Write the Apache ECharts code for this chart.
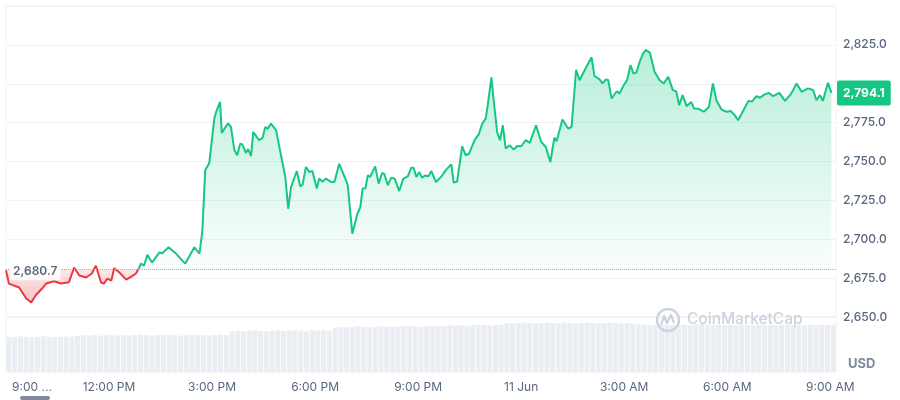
<!DOCTYPE html>
<html style="height: 100%; margin: 0;">
<head>
<meta charset="utf-8" />
<title></title>
<script src="https://cdn.jsdelivr.net/npm/echarts@6/dist/echarts.min.js" type="text/javascript" charset="utf-8"></script>
</head>
<body style="height: 100%; margin: 0; background: #ffffff;">
<div id="main" style="width: 900px; height: 400px; padding: 0px; margin: 0px;"></div>
<script type="text/javascript">
// minutes after 9:00 AM (10 Jun)
var times = [0, 5, 23, 35, 44, 52, 63, 70, 84, 96, 110, 119, 128, 140, 150, 157, 166, 171, 177, 184,
	189, 198, 210, 219, 227, 231, 236, 241, 247, 255, 268, 273, 284, 297, 313, 329, 338, 343, 348, 355,
	364, 367, 374, 377, 388, 393, 399, 404, 409, 413, 419, 423, 428, 432, 442, 448, 453, 457, 463, 472,
	477, 488, 493, 498, 508, 514, 518, 524, 530, 535, 543, 547, 553, 559, 568, 574, 582, 594, 597, 605,
	614, 619, 623, 628, 632, 636, 645, 651, 657, 661, 667, 673, 679, 687, 694, 702, 708, 712, 717, 722,
	727, 732, 738, 743, 751, 760, 769, 778, 782, 788, 797, 803, 809, 819, 826, 832, 838, 842, 848, 852,
	858, 863, 868, 873, 880, 887, 893, 900, 908, 915, 926, 935, 943, 951, 958, 962, 972, 982, 988, 996,
	1002, 1014, 1023, 1028, 1037, 1042, 1048, 1052, 1058, 1067, 1072, 1079, 1085, 1091, 1096, 1101, 1107, 1113, 1118, 1125,
	1133, 1142, 1149, 1157, 1165, 1171, 1176, 1182, 1189, 1197, 1202, 1209, 1219, 1228, 1235, 1241, 1250, 1259, 1266, 1273,
	1279, 1287, 1297, 1303, 1311, 1317, 1326, 1333, 1340, 1351, 1361, 1372, 1381, 1390, 1401, 1410, 1416, 1422, 1427, 1436,
	1442];
var prices = [2680.0, 2671.5, 2669.0, 2662.0, 2659.3, 2664.0, 2668.3, 2671.5, 2673.0, 2671.5, 2672.4, 2681.8, 2676.7, 2675.4, 2678.0, 2683.0, 2672.2, 2671.5, 2674.7, 2673.4,
	2681.4, 2678.6, 2674.0, 2676.0, 2678.0, 2680.5, 2684.4, 2683.0, 2690.0, 2685.0, 2691.5, 2691.0, 2694.8, 2690.8, 2684.3, 2694.8, 2690.8, 2705.0, 2744.3, 2748.8,
	2777.8, 2781.7, 2788.3, 2768.4, 2774.6, 2772.2, 2757.2, 2754.0, 2761.5, 2761.0, 2755.5, 2758.0, 2753.4, 2769.0, 2763.7, 2765.0, 2772.2, 2771.0, 2774.4, 2770.0,
	2760.4, 2740.0, 2719.6, 2733.6, 2743.9, 2734.0, 2735.0, 2746.5, 2743.2, 2744.0, 2732.6, 2739.0, 2737.0, 2739.0, 2736.8, 2737.0, 2748.5, 2737.9, 2734.7, 2703.6,
	2716.4, 2720.7, 2732.6, 2732.8, 2741.1, 2740.0, 2746.9, 2735.8, 2742.6, 2742.0, 2734.7, 2739.6, 2739.0, 2731.0, 2739.0, 2740.5, 2746.0, 2746.0, 2740.0, 2743.2,
	2739.5, 2741.0, 2740.5, 2743.9, 2736.8, 2740.0, 2744.8, 2748.2, 2736.5, 2737.0, 2759.8, 2754.0, 2755.0, 2764.1, 2767.5, 2774.4, 2777.6, 2787.3, 2804.1, 2789.4,
	2769.0, 2763.7, 2773.3, 2758.3, 2760.4, 2757.6, 2760.0, 2759.8, 2763.7, 2762.0, 2773.3, 2762.6, 2759.3, 2749.7, 2765.4, 2763.0, 2777.0, 2771.2, 2772.2, 2809.0,
	2802.3, 2810.9, 2817.0, 2805.0, 2802.8, 2800.2, 2802.8, 2802.5, 2790.5, 2795.2, 2793.8, 2799.0, 2802.3, 2812.0, 2806.6, 2807.0, 2814.1, 2819.5, 2821.7, 2820.0,
	2807.7, 2802.3, 2800.2, 2804.4, 2795.9, 2795.0, 2786.2, 2792.7, 2785.6, 2788.3, 2784.1, 2784.0, 2782.0, 2785.1, 2800.2, 2789.4, 2783.4, 2782.0, 2782.5, 2779.8,
	2776.5, 2782.0, 2789.0, 2788.5, 2792.0, 2791.0, 2793.3, 2794.1, 2792.0, 2794.1, 2789.0, 2793.8, 2800.2, 2794.8, 2797.0, 2796.0, 2789.4, 2792.7, 2789.0, 2800.6,
	2794.1];
// volume bars, one per 10-minute slot (relative height)
var volumes = [64, 63, 65, 64, 63, 64, 65, 64, 63, 64, 65, 64,
	66, 67, 66, 67, 66, 67, 67, 66, 67, 66, 67, 68, 67, 66, 67, 67, 68, 67, 66, 67, 68, 67, 67, 66, 67, 68, 67,
	74, 75, 74, 75, 76, 75, 74, 75, 76, 75, 75, 76, 75, 74, 76, 75, 76, 75,
	81, 82, 81, 82, 83, 82, 81, 82, 83, 82, 83, 82, 83, 84, 83, 82, 83, 84, 83,
	84, 85, 84, 85, 84, 85, 86, 85, 84, 85, 86,
	89, 88, 89, 90, 89, 88, 89, 90, 89, 88, 90, 89, 88, 89, 90, 89, 88, 89, 90, 89, 88, 89, 88, 87,
	86, 85, 86, 85, 86, 86, 85, 86, 85, 86, 87, 86, 85, 86, 85, 86, 85, 86, 86, 85, 86, 85, 86, 85, 86, 86, 85, 86, 85, 86, 85, 86, 85, 86];
var xTickLabels = ['9:00 ...', '12:00 PM', '3:00 PM', '6:00 PM', '9:00 PM', '11 Jun', '3:00 AM', '6:00 AM', '9:00 AM'];
var baseValue = 2680.7;
var lastValue = 2794.1;
var redUntil = 231; // the line turns green from this minute on

var myChart = echarts.init(document.getElementById('main'));

function fmt(v) {
	var s = v.toFixed(1).split('.');
	return s[0].replace(/\B(?=(\d{3})+(?!\d))/g, ',') + '.' + s[1];
}

var redData = [], greenData = [];
for (var i = 0; i < times.length; i++) {
	if (times[i] <= redUntil) redData.push([times[i], prices[i]]);
	if (times[i] >= redUntil) greenData.push([times[i], prices[i]]);
}
var volData = [];
for (var j = 0; j < volumes.length; j++) {
	volData.push([j * 10 + 5, volumes[j]]);
}
var redVals = redData.map(function (d) { return d[1]; });
var redMax = Math.max.apply(null, redVals.concat([baseValue]));
var redMin = Math.min.apply(null, redVals);
var redSplit = (redMax - baseValue) / (redMax - redMin);

var fontFamily = 'Inter, "Noto Sans", sans-serif';

myChart.setOption({
	animation: false,
	backgroundColor: '#ffffff',
	grid: [{
		left: 6, right: 64, top: 6, height: 311,
		show: true, borderColor: '#eff2f5', borderWidth: 1
	}, {
		left: 6, right: 64, top: 317, height: 55,
		show: true, borderColor: '#eff2f5', borderWidth: 1
	}],
	xAxis: [{
		type: 'value', gridIndex: 0, min: 0, max: 1450, interval: 180,
		axisLine: {show: false}, axisTick: {show: false}, axisLabel: {show: false},
		splitLine: {show: false}
	}, {
		type: 'value', gridIndex: 1, min: 0, max: 1450, interval: 180,
		axisLine: {show: false}, axisTick: {show: false}, splitLine: {show: false},
		axisLabel: {
			margin: 9,
			color: '#58667e',
			fontSize: 12,
			fontFamily: fontFamily,
			formatter: function (v) {
				if (v % 180 !== 0) return '';
				var k = v / 180;
				if (k === 0) return '{first|' + xTickLabels[0] + '}';
				return xTickLabels[k] || '';
			},
			rich: {
				first: {padding: [0, 0, 0, 52], color: '#58667e', fontSize: 12, fontFamily: fontFamily}
			}
		}
	}],
	yAxis: [{
		type: 'value', gridIndex: 0, position: 'right', min: 2650, max: 2850, interval: 25,
		axisLine: {show: false}, axisTick: {show: false},
		splitLine: {lineStyle: {color: '#eff2f5', width: 1}},
		axisLabel: {
			margin: 7,
			color: '#58667e',
			fontSize: 12,
			fontWeight: 500,
			fontFamily: fontFamily,
			formatter: function (v) {
				// top tick and the one under the price tag stay empty
				if (v >= 2850 || Math.abs(v - lastValue) < 10) return '';
				return fmt(v);
			}
		}
	}, {
		type: 'value', gridIndex: 1, min: 0, max: 100,
		axisLine: {show: false}, axisTick: {show: false}, axisLabel: {show: false},
		splitLine: {show: false}
	}],
	graphic: [{
		type: 'text', left: 848, top: 358, z: 10,
		style: {text: 'USD', fill: '#7f8a9c', font: 'bold 13px ' + fontFamily}
	}, {
		type: 'circle', shape: {cx: 668, cy: 320, r: 11}, z: 10,
		style: {fill: 'none', stroke: '#cdd3de', lineWidth: 2.5}
	}, {
		type: 'polyline', z: 10,
		shape: {points: [[661, 325], [664, 316], [667, 323], [671, 315], [674, 323]]},
		style: {fill: 'none', stroke: '#cdd3de', lineWidth: 2.2, lineJoin: 'round'}
	}, {
		type: 'text', left: 687, top: 311, z: 10,
		style: {text: 'CoinMarketCap', fill: '#cdd3de', font: '500 15.5px ' + fontFamily}
	}, {
		type: 'rect', z: 10,
		shape: {x: 20, y: 396, width: 30, height: 4, r: 2},
		style: {fill: '#7f8a9c'}
	}],
	series: [{
		name: 'price-red',
		type: 'line',
		xAxisIndex: 0, yAxisIndex: 0,
		data: redData,
		showSymbol: false,
		symbol: 'none',
		lineStyle: {width: 2, color: '#ea3943'},
		itemStyle: {color: '#ea3943'},
		z: 3,
		areaStyle: {
			origin: baseValue,
			opacity: 1,
			color: new echarts.graphic.LinearGradient(0, 0, 0, 1, [
				{offset: 0, color: 'rgba(234, 57, 67, 0.12)'},
				{offset: redSplit, color: 'rgba(234, 57, 67, 0.12)'},
				{offset: 1, color: 'rgba(234, 57, 67, 0.3)'}
			])
		}
	}, {
		name: 'price-green',
		type: 'line',
		xAxisIndex: 0, yAxisIndex: 0,
		data: greenData,
		showSymbol: false,
		symbol: 'none',
		lineStyle: {width: 2, color: '#16c784'},
		itemStyle: {color: '#16c784'},
		z: 3,
		areaStyle: {
			origin: baseValue,
			opacity: 1,
			color: new echarts.graphic.LinearGradient(0, 0, 0, 1, [
				{offset: 0, color: 'rgba(22, 199, 132, 0.3)'},
				{offset: 1, color: 'rgba(22, 199, 132, 0.02)'}
			])
		},
		markLine: {
			silent: true,
			symbol: ['none', 'none'],
			data: [{
				yAxis: baseValue,
				lineStyle: {color: '#a6b0c3', type: 'dotted', width: 1},
				label: {show: false}
			}]
		}
	}, {
		name: 'labels',
		type: 'line',
		xAxisIndex: 0, yAxisIndex: 0,
		data: [],
		z: 5,
		markLine: {
			silent: true,
			symbol: ['none', 'none'],
			lineStyle: {color: 'rgba(0,0,0,0)', width: 0},
			data: [{
				yAxis: lastValue,
				label: {
					show: true,
					position: 'end',
					distance: 1,
					formatter: fmt(lastValue),
					color: '#ffffff',
					fontSize: 12,
					fontWeight: 'bold',
					fontFamily: fontFamily,
					backgroundColor: '#16c784',
					borderRadius: 2,
					padding: [7, 6, 6, 6]
				}
			}]
		},
		markPoint: {
			silent: true,
			symbol: 'circle',
			symbolSize: 0,
			data: [{
				coord: [0, baseValue],
				label: {
					show: true,
					position: 'right',
					distance: 4,
					offset: [0, 2],
					formatter: fmt(baseValue),
					color: '#58667e',
					fontSize: 12,
					fontWeight: 600,
					fontFamily: fontFamily,
					backgroundColor: 'rgba(255, 255, 255, 0.85)',
					padding: [3, 3]
				}
			}]
		}
	}, {
		name: 'volume',
		type: 'bar',
		xAxisIndex: 1, yAxisIndex: 1,
		data: volData,
		barWidth: 5,
		itemStyle: {color: '#eaedf1'},
		z: 1
	}]
});

window.onresize = myChart.resize;
</script>
</body>
</html>
